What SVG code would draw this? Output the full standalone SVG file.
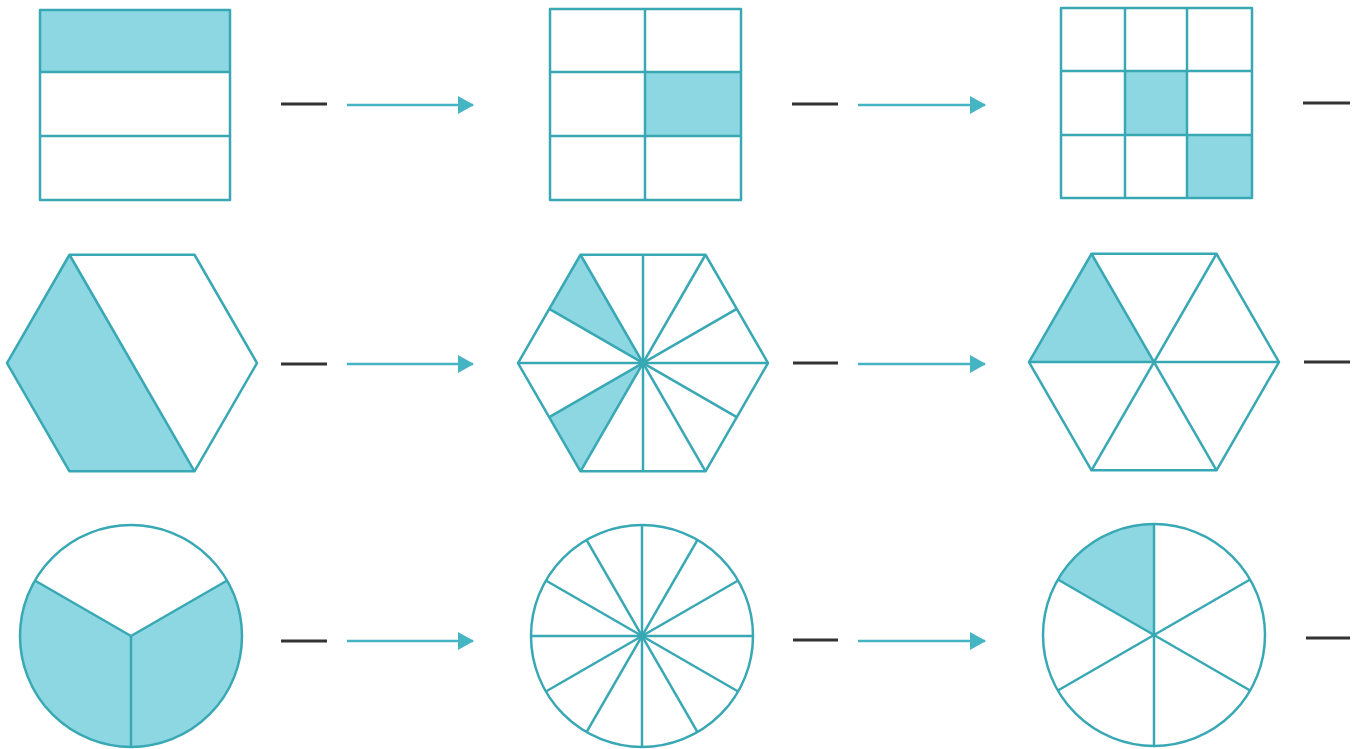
<svg xmlns="http://www.w3.org/2000/svg" width="1361" height="749" viewBox="0 0 1361 749">
<style>
.s{fill:none;stroke:#38a8b5;stroke-width:2.5;stroke-linejoin:round}
.f{fill:#8dd7e2;stroke:none}
.w{fill:#fff}
.d{stroke:#333;stroke-width:3}
.a{stroke:#45b4c3;stroke-width:2.5;fill:none}
</style>
<defs>
<marker id="ah" markerUnits="userSpaceOnUse" markerWidth="16" markerHeight="18" refX="15" refY="9" orient="auto">
<path d="M0,0 L16,9 L0,18 Z" fill="#45b4c3"/>
</marker>
</defs>
<rect width="1361" height="749" fill="#fff"/>

<g id="sq1">
<rect class="f" x="40" y="10" width="190" height="62"/>
<rect class="s" x="40" y="10" width="190" height="190"/>
<line class="s" x1="40" y1="72" x2="230" y2="72"/>
<line class="s" x1="40" y1="136" x2="230" y2="136"/>
</g>
<g id="sq2">
<rect class="f" x="645" y="72" width="96" height="64"/>
<rect class="s" x="550" y="9" width="191" height="191"/>
<line class="s" x1="645" y1="9" x2="645" y2="200"/>
<line class="s" x1="550" y1="72" x2="741" y2="72"/>
<line class="s" x1="550" y1="136" x2="741" y2="136"/>
</g>
<g id="sq3">
<rect class="f" x="1125" y="71" width="62" height="64"/>
<rect class="f" x="1187" y="135" width="65" height="63"/>
<rect class="s" x="1061" y="8" width="191" height="190"/>
<line class="s" x1="1125" y1="8" x2="1125" y2="198"/>
<line class="s" x1="1187" y1="8" x2="1187" y2="198"/>
<line class="s" x1="1061" y1="71" x2="1252" y2="71"/>
<line class="s" x1="1061" y1="135" x2="1252" y2="135"/>
</g>

<g id="hex1">
<polygon class="f" points="69.5,254.75 194.5,471.25 69.5,471.25 7,363"/>
<polygon class="s" points="257,363 194.5,254.75 69.5,254.75 7,363 69.5,471.25 194.5,471.25"/>
<line class="s" x1="69.5" y1="254.75" x2="194.5" y2="471.25"/>
</g>
<g id="hex2">
<polygon class="f" points="643,363 580.5,254.75 549.25,308.9"/>
<polygon class="f" points="643,363 549.25,417.1 580.5,471.25"/>
<polygon class="s" points="768,363 705.5,254.75 580.5,254.75 518,363 580.5,471.25 705.5,471.25"/>
<line class="s" x1="518" y1="363" x2="768" y2="363"/>
<line class="s" x1="580.5" y1="254.75" x2="705.5" y2="471.25"/>
<line class="s" x1="705.5" y1="254.75" x2="580.5" y2="471.25"/>
<line class="s" x1="643" y1="254.75" x2="643" y2="471.25"/>
<line class="s" x1="549.25" y1="308.9" x2="736.75" y2="417.1"/>
<line class="s" x1="549.25" y1="417.1" x2="736.75" y2="308.9"/>
<circle cx="643" cy="363" r="3" fill="#38a8b5"/>
</g>
<g id="hex3">
<polygon class="f" points="1154,362 1091.5,253.75 1029,362"/>
<polygon class="s" points="1279,362 1216.5,253.75 1091.5,253.75 1029,362 1091.5,470.25 1216.5,470.25"/>
<line class="s" x1="1029" y1="362" x2="1279" y2="362"/>
<line class="s" x1="1091.5" y1="253.75" x2="1216.5" y2="470.25"/>
<line class="s" x1="1216.5" y1="253.75" x2="1091.5" y2="470.25"/>
</g>

<g id="circ1">
<path class="f" d="M131,636 L34.87,580.5 A111,111 0 1 0 227.13,580.5 Z"/>
<circle class="s" cx="131" cy="636" r="111"/>
<line class="s" x1="131" y1="636" x2="131" y2="747"/>
<line class="s" x1="131" y1="636" x2="34.87" y2="580.5"/>
<line class="s" x1="131" y1="636" x2="227.13" y2="580.5"/>
</g>
<g id="circ2">
<circle class="s" cx="642" cy="636" r="111"/>
<line class="s" x1="531" y1="636" x2="753" y2="636"/>
<line class="s" x1="545.87" y1="691.5" x2="738.13" y2="580.5"/>
<line class="s" x1="586.5" y1="732.13" x2="697.5" y2="539.87"/>
<line class="s" x1="642" y1="525" x2="642" y2="747"/>
<line class="s" x1="586.5" y1="539.87" x2="697.5" y2="732.13"/>
<line class="s" x1="545.87" y1="580.5" x2="738.13" y2="691.5"/>
<circle cx="642" cy="636" r="3" fill="#38a8b5"/>
</g>
<g id="circ3">
<path class="f" d="M1154,635 L1154,524 A111,111 0 0 0 1057.87,579.5 Z"/>
<circle class="s" cx="1154" cy="635" r="111"/>
<line class="s" x1="1154" y1="524" x2="1154" y2="746"/>
<line class="s" x1="1057.87" y1="690.5" x2="1250.13" y2="579.5"/>
<line class="s" x1="1057.87" y1="579.5" x2="1250.13" y2="690.5"/>
</g>

<g id="dashes">
<line class="d" x1="281" y1="104" x2="327" y2="104"/>
<line class="d" x1="792" y1="104" x2="838" y2="104"/>
<line class="d" x1="1303" y1="103" x2="1350" y2="103"/>
<line class="d" x1="281" y1="364" x2="327" y2="364"/>
<line class="d" x1="793" y1="363" x2="838" y2="363"/>
<line class="d" x1="1304" y1="362" x2="1350" y2="362"/>
<line class="d" x1="281" y1="641" x2="327" y2="641"/>
<line class="d" x1="793" y1="640" x2="838" y2="640"/>
<line class="d" x1="1306" y1="638" x2="1350" y2="638"/>
</g>

<g id="connectors">
<line class="a" x1="347" y1="105" x2="473" y2="105" marker-end="url(#ah)"/>
<line class="a" x1="858" y1="105" x2="985" y2="105" marker-end="url(#ah)"/>
<line class="a" x1="347" y1="364" x2="473" y2="364" marker-end="url(#ah)"/>
<line class="a" x1="858" y1="364" x2="985" y2="364" marker-end="url(#ah)"/>
<line class="a" x1="347" y1="641" x2="473" y2="641" marker-end="url(#ah)"/>
<line class="a" x1="858" y1="641" x2="985" y2="641" marker-end="url(#ah)"/>
</g>
</svg>
